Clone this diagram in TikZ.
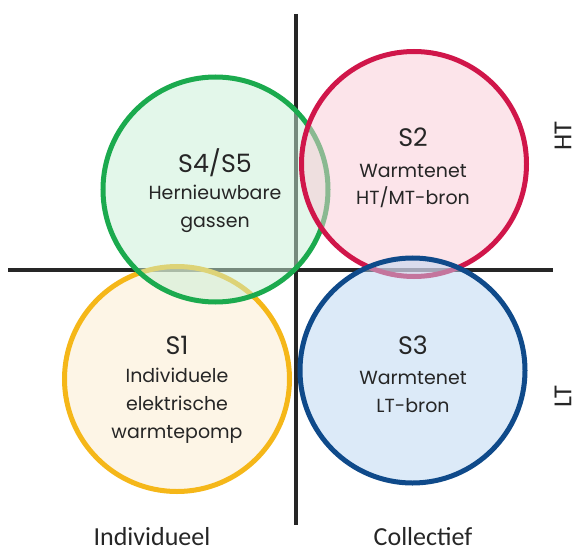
\documentclass[tikz,border=0pt]{standalone}
\usepackage{fontspec}
\setmainfont{Poppins}
\newfontfamily\axisfont{Carlito}
\usetikzlibrary{positioning}

\definecolor{asgrijs}{RGB}{38,38,38}
\definecolor{geellijn}{RGB}{245,183,25}
\definecolor{geelvul}{RGB}{251,235,205}
\definecolor{groenlijn}{RGB}{27,170,78}
\definecolor{groenvul}{RGB}{199,239,213}
\definecolor{roodlijn}{RGB}{208,22,74}
\definecolor{roodvul}{RGB}{249,201,213}
\definecolor{blauwlijn}{RGB}{15,74,138}
\definecolor{blauwvul}{RGB}{185,213,241}

\tikzset{
  as/.style={line width=1mm, draw=asgrijs},
  zone/.style={circle, line width=1.25mm, minimum size=56.25mm, inner sep=0pt, fill opacity=.5, draw opacity=1},
  titel/.style={text=black!85, font=\fontsize{18}{22}\selectfont},
  uitleg/.style={text=black!85, align=center, font=\fontsize{13.5}{19.8}\selectfont},
  aslabel/.style={text=black!85, inner sep=1pt, font=\axisfont\fontsize{18.5}{22}\selectfont}
}

\begin{document}
\begin{tikzpicture}[x=0.25mm, y=-0.25mm]
		\useasboundingbox (0,0) rectangle (576,553);

		% assen
		\coordinate (boven) at (295.5,14);
		\coordinate (onder) at (295.5,525);
		\coordinate (links) at (8,270);
		\coordinate (rechts) at (553,270);
		\draw[as] (boven) -- (onder);
		\draw[as] (links) -- (rechts);

		% cirkels
		\node[zone, draw=geellijn, fill=geelvul] (S1) at (177,379) {};
		\node[zone, draw=groenlijn, fill=groenvul] (S45) at (215.5,189.5) {};
		\node[zone, draw=roodlijn, fill=roodvul] (S2) at (414,164) {};
		\node[zone, draw=blauwlijn, fill=blauwvul] (S3) at (412.5,370.5) {};

		% teksten
		\node[titel] (S1titel) at (177,345) {S1};
		\node[uitleg] (S1tekst) at (177,406) {Individuele\\elektrische\\warmtepomp};
		\node[titel] (S45titel) at (215,163) {S4/S5};
		\node[uitleg] (S45tekst) at (215,209) {Hernieuwbare\\gassen};
		\node[titel] (S2titel) at (413,137) {S2};
		\node[uitleg] (S2tekst) at (413,186) {Warmtenet\\HT/MT-bron};
		\node[titel] (S3titel) at (413,345) {S3};
		\node[uitleg] (S3tekst) at (413,392) {Warmtenet\\LT-bron};

		\node[aslabel, inner sep=0pt, rotate=90] (HT) at (563,136) {HT};
		\node[aslabel, inner sep=0pt, rotate=90] (LT) at (563,397) {LT};
		\node[aslabel] (individueel) at (152,537) {Individueel};
		\node[aslabel] (collectief) at (423,537) {Collectief};
\end{tikzpicture}
\end{document}
